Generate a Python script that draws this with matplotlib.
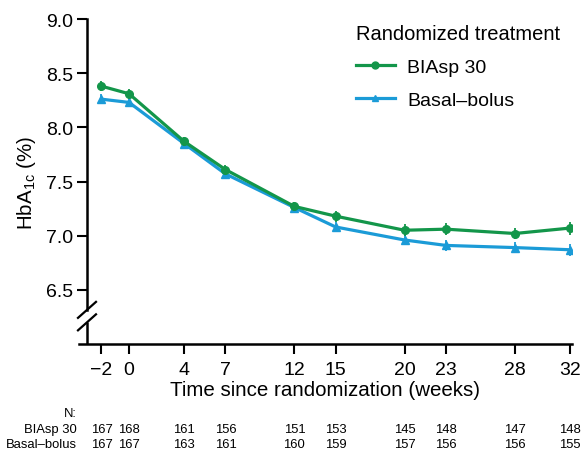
import matplotlib
matplotlib.use("Agg")
import matplotlib.pyplot as plt
from matplotlib.lines import Line2D
from matplotlib.transforms import blended_transform_factory

plt.rcParams['font.family'] = ['Liberation Sans', 'DejaVu Sans']
plt.rcParams['mathtext.fontset'] = 'custom'
plt.rcParams['mathtext.rm'] = 'Liberation Sans'
plt.rcParams['mathtext.it'] = 'Liberation Sans:italic'

weeks = [-2, 0, 4, 7, 12, 15, 20, 23, 28, 32]
week_labels = ['\u22122', '0', '4', '7', '12', '15', '20', '23', '28', '32']
biasp = [8.38, 8.31, 7.87, 7.61, 7.27, 7.18, 7.05, 7.06, 7.02, 7.07]
biasp_err = [0.045, 0.045, 0.045, 0.045, 0.045, 0.05, 0.055, 0.055, 0.055, 0.06]
basal = [8.26, 8.23, 7.85, 7.57, 7.26, 7.08, 6.96, 6.91, 6.89, 6.87]
basal_err = [0.045, 0.045, 0.045, 0.045, 0.045, 0.045, 0.05, 0.05, 0.05, 0.055]
n_biasp = [167, 168, 161, 156, 151, 153, 145, 148, 147, 148]
n_basal = [167, 167, 163, 161, 160, 159, 157, 156, 156, 155]

green = '#13964a'
blue = '#1b9bd7'

W, H = 582, 452
fig = plt.figure(figsize=(W / 100, H / 100), dpi=100)
ax = fig.add_axes([79 / W, 1 - 345 / H, 493 / W, 325 / H])

xmin, xmax = -3.63, 32.15
xspine = -3.05
ax.set_xlim(xmin, xmax)
ax.set_ylim(6.0, 9.0)

ax.errorbar(weeks, basal, yerr=basal_err, color=blue, lw=2.3, marker='^',
            ms=5.5, elinewidth=1.3, capsize=0, label='Basal\u2013bolus', zorder=3)
ax.errorbar(weeks, biasp, yerr=biasp_err, color=green, lw=2.3, marker='o',
            ms=5.5, elinewidth=1.3, capsize=0, label='BIAsp 30', zorder=4)

for s in ['top', 'right']:
    ax.spines[s].set_visible(False)
ax.spines['left'].set_position(('data', xspine))
ax.spines['left'].set_linewidth(1.8)
ax.spines['bottom'].set_linewidth(1.8)
ax.spines['left'].set_bounds(6.315, 9.0)
ax.plot([xspine, xspine], [6.0, 6.2], color='black', lw=1.8, clip_on=False,
        solid_capstyle='butt')

ax.set_yticks([6.5, 7.0, 7.5, 8.0, 8.5, 9.0])
ax.set_yticklabels(['6.5', '7.0', '7.5', '8.0', '8.5', '9.0'])
ax.set_xticks(weeks)
ax.set_xticklabels(week_labels)
ax.tick_params(axis='both', length=7, width=1.5, labelsize=14, pad=3)
ax.tick_params(axis='x', pad=5)

ax.set_xlabel('Time since randomization (weeks)', fontsize=14.8, labelpad=2)
ax.set_ylabel(r'HbA$_{\mathregular{1c}}$ (%)', fontsize=14.8)
ax.yaxis.set_label_coords(-0.083, 0.5)

# axis break marks
xa = (xspine - xmin) / (xmax - xmin)
dx, dy = 9 / 493, 8 / 325
for yc in (6.315, 6.20):
    ya = (yc - 6.0) / 3.0
    ax.plot([xa - dx, xa + dx], [ya - dy, ya + dy], color='black', lw=1.6,
            transform=ax.transAxes, clip_on=False)

handles = [Line2D([], [], color=green, lw=2.3, marker='o', ms=5),
           Line2D([], [], color=blue, lw=2.3, marker='^', ms=5)]
leg = fig.legend(handles, ['BIAsp 30', 'Basal\u2013bolus'], title='Randomized treatment',
                 loc='upper left', bbox_to_anchor=(338 / W, 1 - 8 / H), frameon=False,
                 fontsize=14, title_fontsize=14.5, handlelength=2.05,
                 labelspacing=0.78, handletextpad=0.6, alignment='left')

tr = blended_transform_factory(ax.transData, fig.transFigure)
fs = 9.4
fig.text(77 / W, 1 - 414 / H, 'N:', ha='right', va='center', fontsize=fs)
fig.text(77 / W, 1 - 430 / H, 'BIAsp 30', ha='right', va='center', fontsize=fs)
fig.text(77 / W, 1 - 445 / H, 'Basal\u2013bolus', ha='right', va='center', fontsize=fs)
for w, a, b in zip(weeks, n_biasp, n_basal):
    ax.text(w, 1 - 430 / H, str(a), transform=tr, ha='center', va='center', fontsize=fs)
    ax.text(w, 1 - 445 / H, str(b), transform=tr, ha='center', va='center', fontsize=fs)

fig.savefig('out.png', dpi=100)
